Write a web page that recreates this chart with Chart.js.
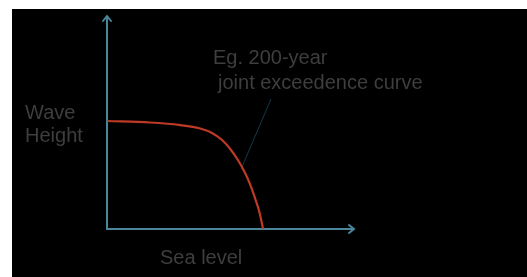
<!DOCTYPE html>
<html>
<head>
<meta charset="utf-8">
<script src="https://cdn.jsdelivr.net/npm/chart.js@4"></script>
<style>
  body { margin: 0; background: #fff; }
  #wrap { position: absolute; left: 12px; top: 9px; width: 515px; height: 268px; background: #000; }
</style>
</head>
<body>
<div id="wrap"><canvas id="myChart"></canvas></div>
<script>
// joint exceedence curve, sea level (x) vs wave height (y), arbitrary units 0..10
var seaLevel   = [0, 1.74, 2.96, 3.77, 4.25, 4.66, 5.02, 5.30, 5.55, 5.79, 5.99, 6.17, 6.32];
var waveHeight = [5.07, 5.0, 4.88, 4.72, 4.51, 4.18, 3.71, 3.24, 2.72, 2.11, 1.46, 0.80, 0];
// leader line from the label to the curve
var leaderX = [6.64, 5.43];
var leaderY = [6.1, 2.82];

var axisMax = 10;
var axisColor = 'rgb(74, 135, 155)';
var textColor = '#3e3e3e';
var ctx1 = document.getElementById("myChart");

function pts(xs, ys) {
  return xs.map(function (x, i) { return { x: x, y: ys[i] }; });
}

// axes with arrowheads and the free text labels
const axesPlugin = {
  id: 'axesPlugin',
  beforeDatasetsDraw(chart) {
    const c = chart.ctx;
    const xs = chart.scales.x, ys = chart.scales.y;
    const x0 = xs.getPixelForValue(0), y0 = ys.getPixelForValue(0);
    const xEnd = xs.getPixelForValue(axisMax), yEnd = ys.getPixelForValue(axisMax);
    c.save();
    c.strokeStyle = axisColor;
    c.lineWidth = 2;
    c.lineCap = 'round';
    c.beginPath();
    c.moveTo(x0, yEnd + 1);
    c.lineTo(x0, y0);
    c.lineTo(xEnd - 1, y0);
    c.stroke();
    // arrowheads
    c.beginPath();
    c.moveTo(x0 - 4, yEnd + 5);
    c.lineTo(x0, yEnd);
    c.lineTo(x0 + 4, yEnd + 5);
    c.moveTo(xEnd - 5, y0 - 4);
    c.lineTo(xEnd, y0);
    c.lineTo(xEnd - 5, y0 + 4);
    c.stroke();
    c.restore();
  },
  afterDraw(chart) {
    const c = chart.ctx;
    c.save();
    c.fillStyle = textColor;
    c.font = '20px "Liberation Sans", Arial, sans-serif';
    c.textBaseline = 'alphabetic';
    c.fillText('Eg. 200-year', 201, 55);
    c.fillText('joint exceedence curve', 206, 80);
    c.fillText('Wave', 13, 110);
    c.fillText('Height', 13, 133);
    c.fillText('Sea level', 148, 255);
    c.restore();
  }
};

const config = {
  type: 'scatter',
  data: {
    datasets: [{
      label: 'Exceedence curve',
      data: pts(seaLevel, waveHeight),
      showLine: true,
      borderColor: 'rgb(190, 58, 38)',
      borderWidth: 2.2,
      pointRadius: 0,
      cubicInterpolationMode: 'monotone'
    }, {
      label: 'Leader',
      data: pts(leaderX, leaderY),
      showLine: true,
      borderColor: 'rgb(18, 58, 74)',
      borderWidth: 1,
      pointRadius: 0
    }]
  },
  plugins: [axesPlugin],
  options: {
    responsive: true,
    maintainAspectRatio: false,
    animation: false,
    layout: { padding: { left: 95, top: 7, right: 173, bottom: 48 } },
    plugins: { legend: { display: false }, tooltip: { enabled: false } },
    scales: {
      x: { type: 'linear', min: 0, max: axisMax, display: false },
      y: { type: 'linear', min: 0, max: axisMax, display: false }
    }
  }
};
const myChart = new Chart(ctx1, config);
</script>
</body>
</html>
